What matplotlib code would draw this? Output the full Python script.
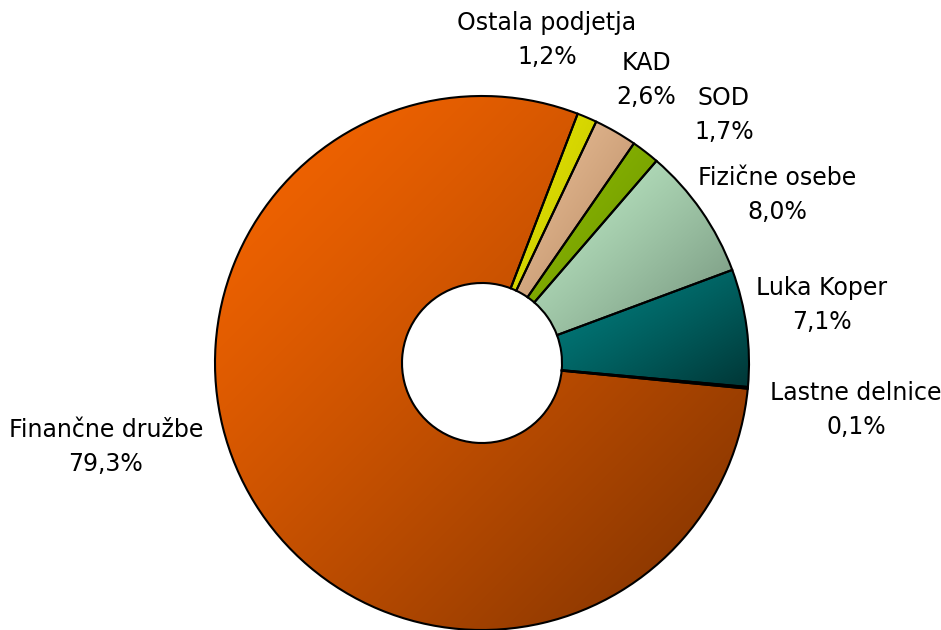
import numpy as np
import matplotlib
matplotlib.use("Agg")
import matplotlib.pyplot as plt
from matplotlib.colors import to_rgb

labels = ["Finančne družbe", "Lastne delnice", "Luka Koper", "Fizične osebe",
          "SOD", "KAD", "Ostala podjetja"]
values = [79.3, 0.1, 7.1, 8.0, 1.7, 2.6, 1.2]
pct_labels = ["79,3%", "0,1%", "7,1%", "8,0%", "1,7%", "2,6%", "1,2%"]
color_light = ["#F86600", "#B04060", "#008080", "#BEEBC6", "#8CBA00", "#E9BE96", "#E4E400"]
color_dark = ["#7A3000", "#702040", "#003636", "#72907A", "#6A9000", "#B48660", "#C0C000"]

# label block centres in pixel coords (x, y from top)
label_pos = [(106, 447), (856, 410), (822, 305), (777, 195), (724, 115), (646, 80), (547, 40)]

W, H = 941, 630
fig = plt.figure(figsize=(W / 100, H / 100), dpi=100)
ax = fig.add_axes([0, 0, 1, 1])

cx, cy, R, r_in = 482, H - 363, 267, 80
wedges, _ = ax.pie(values, startangle=69, counterclock=True, center=(cx, cy), radius=R,
                   wedgeprops=dict(width=R - r_in, edgecolor="black", linewidth=1.5,
                                   facecolor="none"))
ax.set_xlim(0, W)
ax.set_ylim(0, H)
ax.set_aspect("equal")
ax.axis("off")

n = 200
u = np.linspace(0, 1, n)
U, V = np.meshgrid(u, u)
T = ((U + V) / 2) ** 1.25
for w, cl, cd in zip(wedges, color_light, color_dark):
    w.set_zorder(3)
    ext = w.get_path().get_extents()
    c1 = np.array(to_rgb(cl))
    c2 = np.array(to_rgb(cd))
    img = c1[None, None, :] * (1 - T[..., None]) + c2[None, None, :] * T[..., None]
    im = ax.imshow(img, extent=[ext.x0, ext.x1, ext.y0, ext.y1], origin="upper",
                   zorder=2, interpolation="bilinear", aspect="auto")
    im.set_clip_path(w)

for lab, pct, (lx, ly) in zip(labels, pct_labels, label_pos):
    ax.text(lx, H - (ly - 17), lab, ha="center", va="center",
            fontsize=17, family="DejaVu Sans", color="black", zorder=5)
    ax.text(lx, H - (ly + 17), pct, ha="center", va="center",
            fontsize=17, family="DejaVu Sans", color="black", zorder=5)

ax.set_xlim(0, W)
ax.set_ylim(0, H)
fig.savefig("out.png", dpi=100)
